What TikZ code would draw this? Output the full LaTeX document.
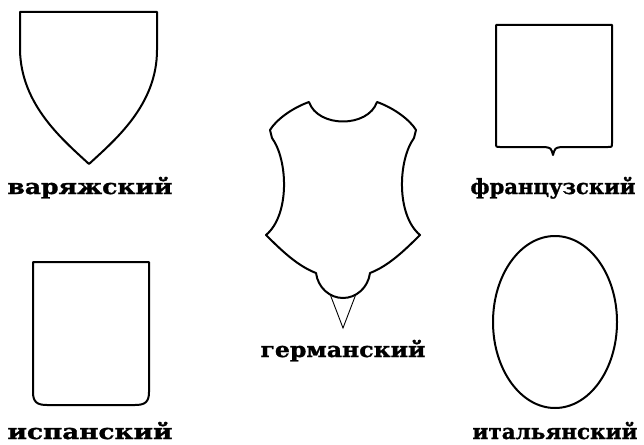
\documentclass[tikz,border=0pt]{standalone}
\usepackage{fontspec}
\setmainfont{DejaVu Serif}[BoldFeatures={FakeBold=1.2}]
\usetikzlibrary{positioning}
\newcommand{\shieldname}[1]{\resizebox{165pt}{\height}{\bfseries #1}}

\begin{document}
\begin{tikzpicture}[x=1pt,y=-1pt]
\tikzstyle{shield} = [draw=black, line width=2pt, line join=round]
\tikzstyle{thinline} = [draw=black, line width=0.9pt]
\tikzstyle{caption} = [font=\fontsize{21}{21}\selectfont, inner sep=0pt, anchor=base]
\useasboundingbox (0,0) rectangle (644,444);
% varangian
\draw[shield] (20,12) -- (157,12) -- (157,50)
  .. controls (157,105) and (115,140) .. (89,164)
  .. controls (63,140) and (21,105) .. (20,50) -- cycle;
\node (varlabel) [caption] at (90,194) {\shieldname{варяжский}};
% french
\draw[shield] (496,25) -- (612,25) -- (612,143)
  .. controls (612,147) .. (608,147) -- (561,147)
  .. controls (555,148) .. (553,155)
  .. controls (551,148) .. (545,147) -- (500,147)
  .. controls (496,147) .. (496,143) -- cycle;
\node (frlabel) [caption] at (553,194) {\shieldname{французский}};
% german
\draw[shield] (309,102) .. controls (318,128) and (368,128) .. (377,102)
  .. controls (394,108) and (410,120) .. (416,130) -- (414,138)
  .. controls (398,160) and (396,215) .. (420,235)
  .. controls (403,252) and (388,266) .. (370,273)
  .. controls (368,288) and (356,298) .. (343,298)
  .. controls (330,298) and (318,288) .. (316,273)
  .. controls (298,266) and (283,252) .. (266,235)
  .. controls (290,215) and (288,160) .. (272,138) -- (270,130)
  .. controls (276,120) and (292,108) .. (309,102) -- cycle;
\draw[thinline] (330,294) -- (343,328) -- (356,294);
\node (gerlabel) [caption] at (343,357) {\shieldname{германский}};
% spanish
\draw[shield] (33,262) -- (149,262) -- (149,392)
  .. controls (149,402) and (145,405) .. (135,405) -- (47,405)
  .. controls (37,405) and (33,402) .. (33,392) -- cycle;
\node (splabel) [caption] at (90,439) {\shieldname{испанский}};
% italian
\draw[shield] (555,322) ellipse [x radius=62pt, y radius=86pt];
\node (itlabel) [caption] at (555,439) {\shieldname{итальянский}};
\end{tikzpicture}
\end{document}
